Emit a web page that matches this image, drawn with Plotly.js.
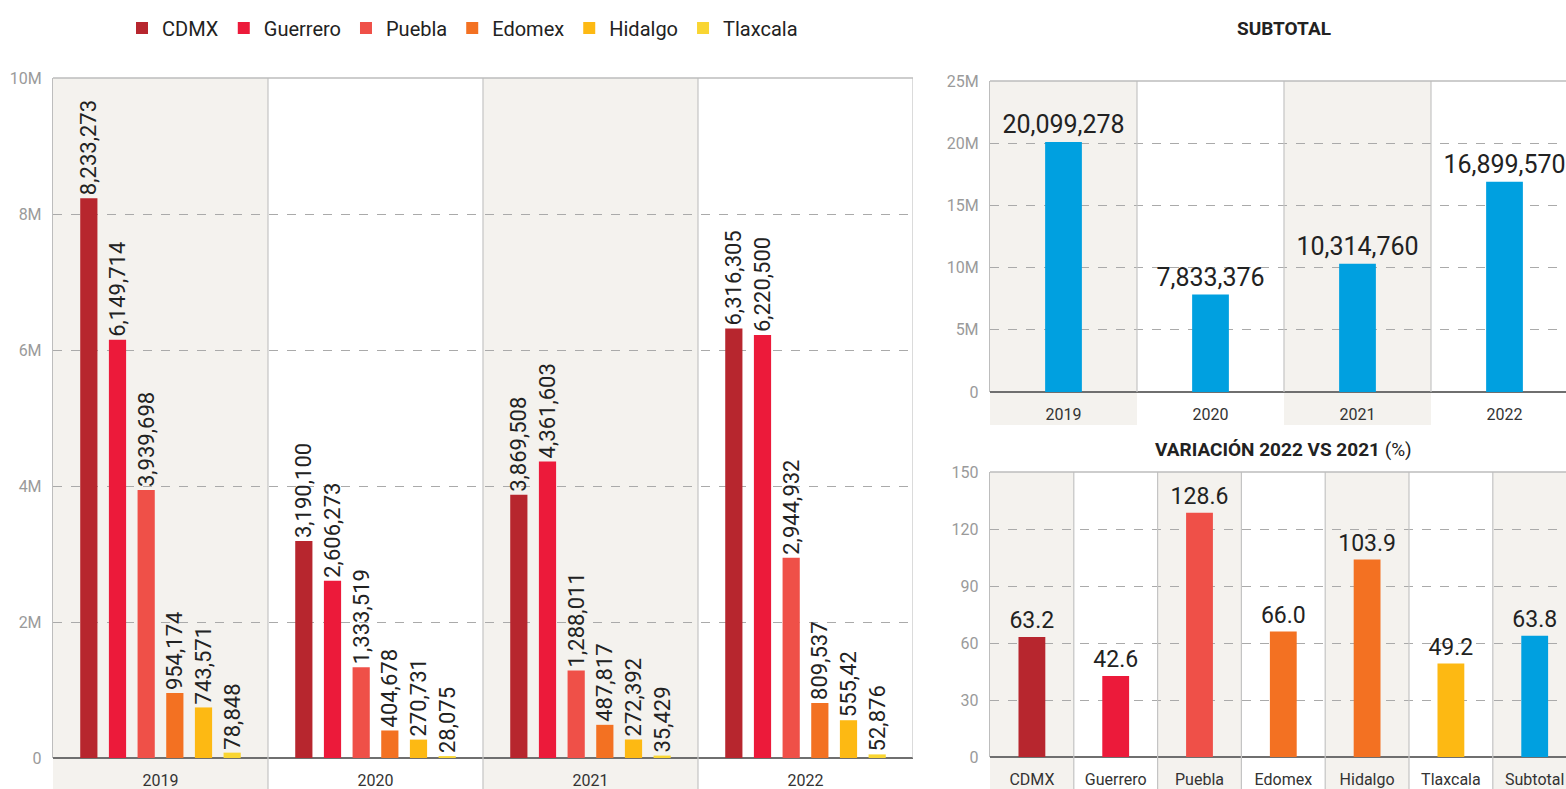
<!DOCTYPE html>
<html>
<head>
<meta charset="utf-8">
<script src="https://cdn.plot.ly/plotly-3.0.1.min.js"></script>
<style>
html,body{margin:0;padding:0;background:#fff;overflow:hidden;}
#chart{width:1566px;height:789px;}
</style>
</head>
<body>
<div id="chart"></div>
<script>
// ---------------- DATA ----------------
const years = ['2019', '2020', '2021', '2022'];
const states = ['CDMX', 'Guerrero', 'Puebla', 'Edomex', 'Hidalgo', 'Tlaxcala'];
const cdmx     = [8233273, 3190100, 3869508, 6316305];
const guerrero = [6149714, 2606273, 4361603, 6220500];
const puebla   = [3939698, 1333519, 1288011, 2944932];
const edomex   = [954174, 404678, 487817, 809537];
const hidalgo  = [743571, 270731, 272392, 555420];
const tlaxcala = [78848, 28075, 35429, 52876];
const hidalgoLabels = ['743,571', '270,731', '272,392', '555,42'];
const subtotal = [20099278, 7833376, 10314760, 16899570];
const varCats = ['CDMX', 'Guerrero', 'Puebla', 'Edomex', 'Hidalgo', 'Tlaxcala', 'Subtotal'];
const variation = [63.2, 42.6, 128.6, 66.0, 103.9, 49.2, 63.8];
const leftTickVals = [0, 2e6, 4e6, 6e6, 8e6, 10e6];
const leftTickText = ['0', '2M', '4M', '6M', '8M', '10M'];
const subTickVals = [0, 5e6, 10e6, 15e6, 20e6, 25e6];
const subTickText = ['0', '5M', '10M', '15M', '20M', '25M'];
const varTickVals = [0, 30, 60, 90, 120, 150];

// ---------------- STYLE ----------------
const FONT = "Roboto, 'Liberation Sans', sans-serif";
const stateColors = ['#b7262e', '#ec1a3a', '#ef5048', '#f37122', '#fdb913', '#f9d532'];
const varColors = ['#b7262e', '#ec1a3a', '#ef5048', '#f37122', '#f37122', '#fdb913', '#00a0e0'];
const BLUE = '#00a0e0';
const SHADE = '#f4f2ee';
const W = 1566, H = 789;
const px = v => v / W;
const py = v => 1 - v / H;

const fmt = v => v.toLocaleString('en-US');
const seriesValues = [cdmx, guerrero, puebla, edomex, hidalgo, tlaxcala];

const traces = [];
seriesValues.forEach((vals, i) => {
  const labels = (i === 4) ? hidalgoLabels : vals.map(fmt);
  traces.push({
    type: 'bar', name: states[i], x: years, y: vals,
    xaxis: 'x', yaxis: 'y',
    marker: {color: stateColors[i], line: {width: 0}},
    text: labels, textposition: 'outside', textangle: -90,
    constraintext: 'none', cliponaxis: false,
    textfont: {family: FONT, size: 22, color: '#222'},
    hoverinfo: 'x+y'
  });
});

traces.push({
  type: 'bar', x: years, y: subtotal, xaxis: 'x2', yaxis: 'y2', width: 0.25,
  marker: {color: BLUE}, showlegend: false,
  text: subtotal.map(fmt), textposition: 'outside', textangle: 0,
  constraintext: 'none', cliponaxis: false,
  textfont: {family: FONT, size: 25, color: '#222'}
});

traces.push({
  type: 'bar', x: varCats, y: variation, xaxis: 'x3', yaxis: 'y3', width: 0.32,
  marker: {color: varColors}, showlegend: false,
  text: variation.map(v => v.toFixed(1)), textposition: 'outside', textangle: 0,
  constraintext: 'none', cliponaxis: false,
  textfont: {family: FONT, size: 23, color: '#222'}
});

// ---------------- GEOMETRY ----------------
const L = {x0: 53, x1: 913, top: 78, bot: 758};
const RT = {x0: 990, x1: 1566, top: 81, bot: 392, shadeBot: 425, catW: 147};
const RB = {x0: 990, x1: 1566, top: 472, bot: 757, catW: 83.8};

const shapes = [];
// shading bands
[0, 2].forEach(i => shapes.push({type: 'rect', xref: 'x', yref: 'paper', x0: i - 0.5, x1: i + 0.5,
  y0: 0, y1: py(L.top), fillcolor: SHADE, line: {width: 0}, layer: 'below'}));
[0, 2].forEach(i => shapes.push({type: 'rect', xref: 'x2', yref: 'paper', x0: i - 0.5, x1: i + 0.5,
  y0: py(RT.shadeBot), y1: py(RT.top), fillcolor: SHADE, line: {width: 0}, layer: 'below'}));
[0, 2, 4, 6].forEach(i => shapes.push({type: 'rect', xref: 'x3', yref: 'paper', x0: i - 0.5, x1: i + 0.5,
  y0: 0, y1: py(RB.top), fillcolor: SHADE, line: {width: 0}, layer: 'below'}));

const SEP = '#c4c4c4';
// separators
[0.5, 1.5, 2.5].forEach(xv => shapes.push({type: 'line', xref: 'x', yref: 'paper', x0: xv, x1: xv,
  y0: 0, y1: py(L.top), line: {color: SEP, width: 1.2}, layer: 'above'}));
shapes.push({type: 'line', xref: 'x', yref: 'paper', x0: 3.5, x1: 3.5, y0: py(L.bot), y1: py(L.top),
  line: {color: SEP, width: 1.2}, layer: 'above'});
[0.5, 1.5, 2.5].forEach(xv => shapes.push({type: 'line', xref: 'x2', yref: 'paper', x0: xv, x1: xv,
  y0: py(RT.bot), y1: py(RT.top), line: {color: SEP, width: 1.2}, layer: 'above'}));
[0.5, 1.5, 2.5, 3.5, 4.5, 5.5].forEach(xv => shapes.push({type: 'line', xref: 'x3', yref: 'paper', x0: xv, x1: xv,
  y0: 0, y1: py(RB.top), line: {color: SEP, width: 1.2}, layer: 'above'}));
// top borders
[['x', L.top], ['x2', RT.top], ['x3', RB.top]].forEach(([xr, t]) => shapes.push({type: 'line',
  xref: xr + ' domain', yref: 'paper', x0: 0, x1: 1, y0: py(t), y1: py(t),
  line: {color: '#bdbdbd', width: 1.5}, layer: 'above'}));

const yAxisCommon = {
  showgrid: true, gridcolor: '#aaaaaa', griddash: 'dash', gridwidth: 1,
  zeroline: true, zerolinecolor: '#6f6f6f', zerolinewidth: 2,
  showline: true, linecolor: '#bdbdbd', linewidth: 1.2,
  tickfont: {family: FONT, size: 16, color: '#9a9a9a'},
  ticks: '', ticklabelstandoff: 7, fixedrange: true, tickmode: 'array'
};
const xAxisCommon = {
  type: 'category', showgrid: false, zeroline: false, showline: false, ticks: '',
  tickfont: {family: FONT, size: 16, color: '#333'}, fixedrange: true
};

const layout = {
  width: W, height: H,
  margin: {l: 0, r: 0, t: 0, b: 0},
  paper_bgcolor: '#ffffff', plot_bgcolor: 'rgba(0,0,0,0)',
  font: {family: FONT, color: '#222'},
  barmode: 'group', bargap: 0.2, bargroupgap: 0.4,
  showlegend: true,
  legend: {orientation: 'h', x: px(122), xanchor: 'left', y: py(28), yanchor: 'middle',
    font: {family: FONT, size: 20, color: '#222'}, bgcolor: 'rgba(0,0,0,0)', traceorder: 'normal'},
  xaxis: Object.assign({}, xAxisCommon, {domain: [px(L.x0), px(L.x1)], range: [-0.5, 3.5],
    anchor: 'y', ticklabelstandoff: 11}),
  yaxis: Object.assign({}, yAxisCommon, {domain: [py(L.bot), py(L.top)], range: [0, 10e6],
    tickvals: leftTickVals, ticktext: leftTickText, anchor: 'x'}),
  xaxis2: Object.assign({}, xAxisCommon, {domain: [px(RT.x0), 1],
    range: [-0.5, -0.5 + (RT.x1 - RT.x0) / RT.catW], anchor: 'y2', ticklabelstandoff: 11}),
  yaxis2: Object.assign({}, yAxisCommon, {domain: [py(RT.bot), py(RT.top)], range: [0, 25e6],
    tickvals: subTickVals, ticktext: subTickText, anchor: 'x2'}),
  xaxis3: Object.assign({}, xAxisCommon, {domain: [px(RB.x0), 1],
    range: [-0.5, -0.5 + (RB.x1 - RB.x0) / RB.catW], anchor: 'y3', ticklabelstandoff: 11}),
  yaxis3: Object.assign({}, yAxisCommon, {domain: [py(RB.bot), py(RB.top)], range: [0, 150],
    tickvals: varTickVals, anchor: 'x3'}),
  shapes: shapes,
  annotations: [
    {text: '<b>SUBTOTAL</b>', xref: 'paper', yref: 'paper', x: px(1284), y: py(28),
      xanchor: 'center', yanchor: 'middle', showarrow: false,
      font: {family: FONT, size: 19, color: '#222'}},
    {text: '<b>VARIACIÓN 2022 VS 2021</b> (%)', xref: 'paper', yref: 'paper', x: px(1283), y: py(449),
      xanchor: 'center', yanchor: 'middle', showarrow: false,
      font: {family: FONT, size: 19, color: '#222'}}
  ]
};

Plotly.newPlot('chart', traces, layout, {displayModeBar: false, staticPlot: true});
</script>
</body>
</html>
